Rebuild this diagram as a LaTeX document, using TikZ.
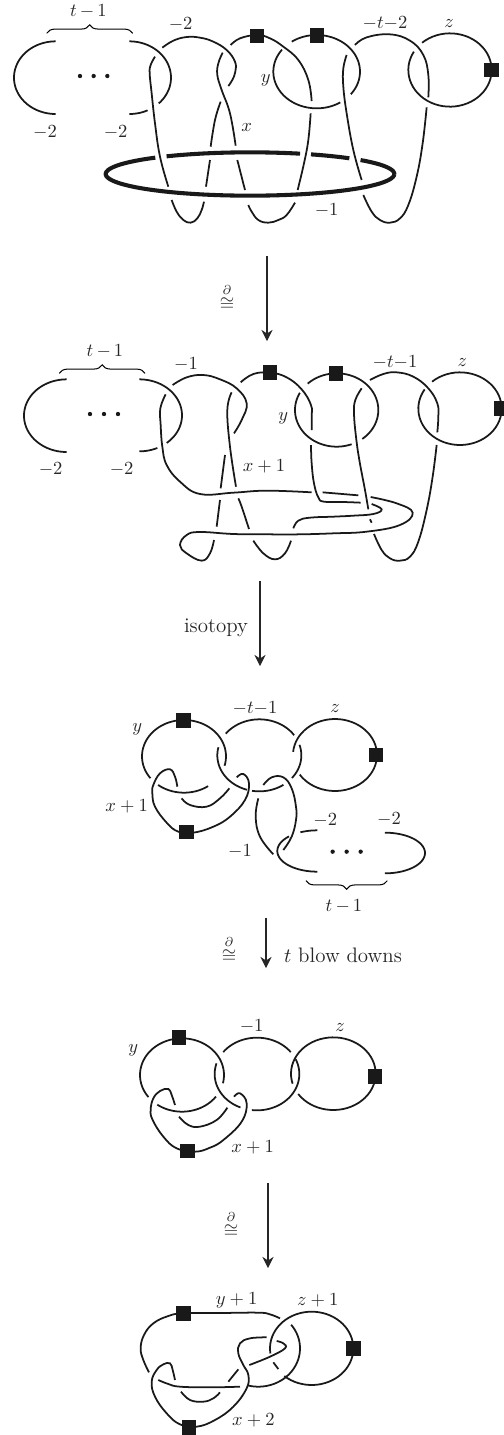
\documentclass[tikz,border=0pt]{standalone}
\usepackage{amsmath}
\usetikzlibrary{arrows.meta,decorations.pathreplacing}
\tikzset{
  knot/.style={line width=.95pt,line cap=butt,black!90},
  ringline/.style={line width=2.2pt,black!90},
  sq/.style={fill=black!90,inner sep=0pt,minimum size=8pt,rectangle},
  lab/.style={inner sep=0pt,text=black!85},
  txt/.style={lab,font=\fontsize{11.3}{13}\selectfont},
  brc/.style={line width=.55pt,decorate,decoration={brace,amplitude=4.6pt}},
  brcm/.style={line width=.55pt,decorate,decoration={brace,mirror,amplitude=4.6pt}},
  dotc/.style={fill=black!90,draw=none},
  arr/.style={line width=.6pt,black!85,-{Stealth[length=6pt,width=6pt]}},
  panel/.style={x=.18pt,y=-.18pt}
}
\newcommand{\kn}[1]{\draw[knot] plot[smooth,tension=.7] coordinates {#1};}
\newcommand{\arcp}[6]{\draw[knot] plot[domain=#5:#6,samples=60,smooth] ({#1+#3*cos(\x)},{#2-#4*sin(\x)});}
\newcommand{\tdots}[3]{\fill[dotc] (#1,#3) circle[radius=6.5] (#2,#3) circle[radius=6.5] ({(#1+#2)/2},#3) circle[radius=6.5];}
\newcommand{\ringp}[2]{\draw[ringline] plot[domain=#1:#2,samples=60,smooth] ({750+433*cos(\x)},{522-65*sin(\x)});}
\begin{document}
\begin{tikzpicture}[x=.54pt,y=-.54pt]
\useasboundingbox (0,0) rectangle (504,1435);
\clip (0,0) rectangle (504,1435);
% ---------------- panel 1
\begin{scope}[shift={(0,0)},panel]
\arcp{167}{233}{125}{109}{90}{270}
\arcp{388}{233}{125}{109}{90}{-45}
\arcp{388}{233}{125}{109}{-90}{-64}
\kn{(465,170)(452,195)(449,220)(455,280)(465,370)(480,470)(505,560)}
\kn{(515,600)(530,635)(550,660)(572,668)(592,655)(605,630)(612,605)}
\kn{(618,560)(630,480)}
\kn{(632,440)(645,360)(662,305)}
\kn{(487,143)(520,122)(560,111)(600,113)(640,125)(680,150)(705,185)(706,215)(697,240)(685,258)}
\kn{(692,135)(720,115)(771,105)(810,115)(850,140)(895,180)(925,240)(935,303)}
\kn{(932,340)(925,420)(912,490)(893,570)}
\kn{(885,608)(860,645)(835,660)(805,668)(775,660)(755,635)(745,615)}
\kn{(735,570)(712,480)}
\kn{(707,437)(690,340)(665,270)(652,225)(655,190)(668,158)}
\arcp{950}{215}{130}{110}{125}{-38}
\arcp{950}{215}{130}{110}{143}{303}
\kn{(1040,165)(1030,205)(1030,260)(1040,340)(1060,450)(1085,540)}
\kn{(1090,585)(1115,635)(1140,660)(1170,668)(1200,655)(1225,615)(1250,530)(1268,430)(1280,322)}
\kn{(1065,135)(1100,112)(1170,103)(1230,122)(1270,165)(1285,225)(1285,292)}
\arcp{1350}{210}{125}{110}{132}{-210}
\ringp{131}{360}
\ringp{125.3}{69.7}
\ringp{65}{46.5}
\ringp{40}{0}
\node[sq] (a1) at (771,108) {};
\node[sq] (a2) at (951,107) {};
\node[sq] (a3) at (1475,210) {};
\draw[brc] (140,100) -- (398,100);
\node[lab] (l1) at (265,35) {$t\,{-}\,1$};
\node[lab] (l2) at (542,72) {$-2$};
\node[lab] (l3) at (797,240) {$y$};
\node[lab] (l4) at (740,382) {$x$};
\node[lab] (l5) at (1155,70) {$-t{-}2$};
\node[lab] (l6) at (1347,70) {$z$};
\node[lab] (l7) at (135,398) {$-2$};
\node[lab] (l8) at (347,398) {$-2$};
\node[lab] (l9) at (980,630) {$-1$};
\tdots{240}{322}{228}
\end{scope}
% ---------------- panel 2
\begin{scope}[shift={(0,350)},panel]
\arcp{200}{197}{128}{109}{90}{270}
\arcp{418}{196}{128}{108}{90}{-50}
\arcp{418}{196}{128}{108}{-90}{-65}
\kn{(497,133)(481,175)(482,225)(487,290)(500,345)(540,395)(600,432)(700,428)(800,422)(935,427)}
\kn{(968,427)(1075,436)}
\kn{(1112,441)(1190,460)(1238,488)(1200,525)(1100,545)(1000,550)(900,553)(800,553)(700,552)(600,546)(560,555)(540,585)(560,610)(605,632)(630,610)(642,570)}
\kn{(650,530)(660,450)}
\kn{(662,415)(675,315)}
\kn{(702,250)(725,210)(740,160)(710,115)(660,88)(610,75)(560,82)(518,105)}
\kn{(722,97)(760,72)(810,68)(860,82)(905,118)(933,165)(935,200)(935,240)}
\kn{(933,285)(935,340)(942,400)(955,442)(972,455)(1030,456)(1082,458)}
\kn{(1115,462)(1145,478)(1120,492)(1060,497)(1000,500)(930,503)(895,512)(880,535)}
\kn{(873,572)(855,610)(825,628)(790,610)(760,572)}
\kn{(747,537)(725,470)(715,445)}
\kn{(708,410)(690,290)(682,180)(695,127)}
\arcp{1010}{180}{125}{110}{134}{-52}
\arcp{1010}{180}{125}{110}{152}{291}
\kn{(1085,115)(1066,150)(1062,190)(1068,260)(1078,330)(1095,420)(1105,478)}
\kn{(1110,508)(1115,518)}
\kn{(1122,552)(1145,600)(1170,625)(1200,632)(1230,620)(1255,575)(1280,480)(1298,380)(1310,285)}
\kn{(1110,90)(1150,72)(1190,67)(1240,80)(1285,115)(1312,160)(1315,200)(1312,247)}
\arcp{1380}{176}{125}{109}{132}{-212}
\node[sq] (b1) at (810,67) {};
\node[sq] (b2) at (1008,70) {};
\node[sq] (b3) at (1505,175) {};
\draw[brc] (178,70) -- (435,70);
\node[lab] (m1) at (315,3) {$t\,{-}\,1$};
\node[lab] (m2) at (558,42) {$-1$};
\node[lab] (m3) at (1185,37) {$-t{-}1$};
\node[lab] (m4) at (1387,37) {$z$};
\node[lab] (m5) at (850,205) {$y$};
\node[lab] (m6) at (792,348) {$x+1$};
\node[lab] (m7) at (152,358) {$-2$};
\node[lab] (m8) at (365,358) {$-2$};
\tdots{270}{354}{192}
\end{scope}
% ---------------- panel 3
\begin{scope}[shift={(90,690)},panel]
\arcp{282}{199}{126}{109}{217}{-15}
\arcp{282}{199}{126}{109}{232}{305}
\arcp{508}{196}{126}{108}{167}{253}
\arcp{508}{196}{126}{108}{143}{34}
\arcp{508}{196}{126}{108}{17}{-39}
\arcp{508}{196}{126}{108}{260}{305}
\arcp{735}{195}{126}{108}{175}{-147}
\kn{(440,262)(460,252)(477,280)(465,330)(420,380)(370,410)(310,428)(265,425)(230,398)(195,350)(187,310)(190,285)(210,250)(240,238)(255,260)(262,290)}
\kn{(275,325)(300,345)(350,350)(390,325)(418,295)}
\kn{(505,325)(497,380)(510,440)(550,493)}
\kn{(520,285)(545,262)(580,262)(605,295)(618,350)(618,390)(605,440)(580,480)}
\arcp{682}{483}{120}{62}{135}{270}
\arcp{682}{483}{120}{62}{115}{90}
\arcp{885}{489}{120}{61}{90}{-90}
\node[sq] (c1) at (280,92) {};
\node[sq] (c2) at (858,195) {};
\node[sq] (c3) at (290,426) {};
\draw[brcm] (648,572) -- (892,572);
\node[lab] (n1) at (495,55) {$-t{-}1$};
\node[lab] (n2) at (735,55) {$z$};
\node[lab] (n3) at (142,118) {$y$};
\node[lab] (n4) at (110,350) {$x+1$};
\node[lab] (n5) at (706,390) {$-2$};
\node[lab] (n6) at (897,388) {$-2$};
\node[lab] (n7) at (450,483) {$-1$};
\node[lab] (n8) at (762,650) {$t\,{-}\,1$};
\tdots{728}{812}{485}
\end{scope}
% ---------------- panel 4
\begin{scope}[shift={(110,1015)},panel]
\arcp{216}{180}{126}{110}{217}{-13}
\arcp{216}{180}{126}{110}{234}{324}
\arcp{441}{177}{127}{109}{143}{37}
\arcp{441}{177}{127}{109}{24}{-97}
\arcp{441}{177}{127}{109}{163}{247}
\arcp{670}{176}{127}{109}{196}{-146}
\kn{(372,245)(390,235)(410,265)(395,320)(340,375)(300,398)(255,410)(200,400)(160,365)(128,315)(122,285)(130,250)(150,228)(175,222)(185,240)(195,270)}
\kn{(207,305)(235,330)(270,335)(320,315)(352,278)}
\node[sq] (d1) at (207,68) {};
\node[sq] (d2) at (795,184) {};
\node[sq] (d3) at (232,408) {};
\node[lab] (o1) at (425,35) {$-1$};
\node[lab] (o2) at (690,38) {$z$};
\node[lab] (o3) at (70,105) {$y$};
\node[lab] (o4) at (428,398) {$x+1$};
\end{scope}
% ---------------- panel 5
\begin{scope}[shift={(120,1285)},panel]
\kn{(87,262)(70,225)(62,190)(72,150)(100,115)(145,93)(190,85)(300,84)(415,83)(450,88)(480,100)}
\kn{(115,285)(145,297)(180,305)(270,307)(360,305)}
\kn{(440,157)(390,160)(360,175)(355,205)(370,240)(385,270)(380,310)(340,365)(285,405)(230,425)(180,418)(140,385)(105,335)(95,290)(110,255)(130,238)(150,235)(158,255)(165,285)}
\kn{(183,320)(210,345)(250,350)(280,340)(300,322)}
\kn{(325,290)(355,253)}
\kn{(388,240)(450,215)(495,190)(490,175)(470,168)}
\arcp{415}{190}{125}{115}{38}{-105}
\arcp{575}{190}{125}{110}{188}{-131}
\kn{(460,232)(475,252)}
\node[sq] (e1) at (190,85) {};
\node[sq] (e2) at (700,190) {};
\node[sq] (e3) at (207,428) {};
\node[lab] (p1) at (350,47) {$y+1$};
\node[lab] (p2) at (593,45) {$z+1$};
\node[lab] (p3) at (400,405) {$x+2$};
\end{scope}
% ---------------- arrows
\coordinate (s1) at (267,256); \coordinate (t1) at (267,341);
\coordinate (s2) at (260,581); \coordinate (t2) at (260,666);
\coordinate (s3) at (266,918); \coordinate (t3) at (266,968);
\coordinate (s4) at (268,1183); \coordinate (t4) at (268,1268);
\draw[arr] (s1) -- (t1);
\draw[arr] (s2) -- (t2);
\draw[arr] (s3) -- (t3);
\draw[arr] (s4) -- (t4);
\node[lab] (q1) at (227,297) {$\stackrel{\partial}{\cong}$};
\node[txt] (q2) at (216,628) {isotopy};
\node[lab] (q3) at (229,949) {$\stackrel{\partial}{\cong}$};
\node[txt] (q4) at (343,955) {$t$ blow downs};
\node[lab] (q5) at (231,1224) {$\stackrel{\partial}{\cong}$};
\end{tikzpicture}
\end{document}
